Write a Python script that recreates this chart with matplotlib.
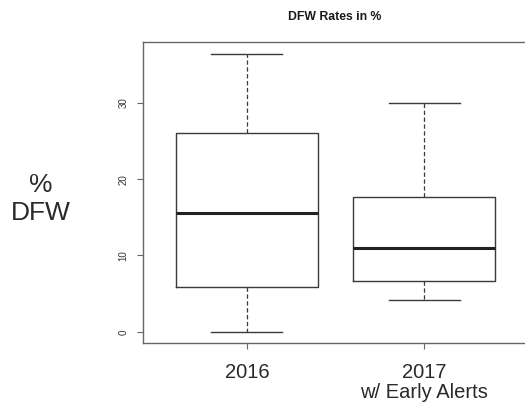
import matplotlib
matplotlib.use("Agg")
import matplotlib.pyplot as plt

# box statistics (DFW rate, %)
groups = ["2016", "2017\nw/ Early Alerts"]
whislo = [0.0, 4.2]
q1 = [5.9, 6.7]
med = [15.5, 11.0]
q3 = [26.1, 17.7]
whishi = [36.4, 30.0]

yticks = [0, 10, 20, 30]

plt.rcParams['font.family'] = ['Liberation Sans', 'DejaVu Sans']

fig = plt.figure(figsize=(5.25, 4.05), dpi=100)
ax = fig.add_axes([143 / 525, 62 / 405, 388 / 525, 301 / 405])

stats = []
for i, g in enumerate(groups):
    stats.append(dict(label=g, whislo=whislo[i], q1=q1[i], med=med[i],
                      q3=q3[i], whishi=whishi[i], fliers=[]))

line_c = '#3a3a3a'
ax.bxp(stats, positions=[1, 2], widths=0.8, showfliers=False,
       boxprops=dict(color=line_c, linewidth=1.0),
       medianprops=dict(color='#222222', linewidth=2.2),
       whiskerprops=dict(color=line_c, linewidth=0.9, linestyle=(0, (3.5, 2))),
       capprops=dict(color=line_c, linewidth=1.0),
       capwidths=0.4)

ax.set_xlim(0.415, 2.6)
ax.set_ylim(-1.46, 37.96)
ax.set_yticks(yticks)
ax.set_yticklabels([str(v) for v in yticks], rotation=90, va='center',
                   fontsize=7, color='#333333')
ax.set_xticks([1, 2])
ax.set_xticklabels(groups, fontsize=14.5, color='#2a2a2a', linespacing=1.05)

for side in ['top', 'left', 'bottom', 'right']:
    ax.spines[side].set_color('#666666')
    ax.spines[side].set_linewidth(1.0)
ax.tick_params(axis='both', direction='out', length=4.5, width=0.8,
               color='#666666')
ax.tick_params(axis='x', pad=10)
ax.tick_params(axis='y', pad=6)

fig.text(41 / 525, 1 - 199 / 405, '%\nDFW', ha='center', va='center',
         fontsize=19, color='#2a2a2a', linespacing=1.25)
fig.text(335 / 525, 1 - 17.5 / 405, 'DFW Rates in %', ha='center',
         va='center', fontsize=8.8, fontweight='bold', color='#1a1a1a')

fig.savefig('out.png', dpi=100)
